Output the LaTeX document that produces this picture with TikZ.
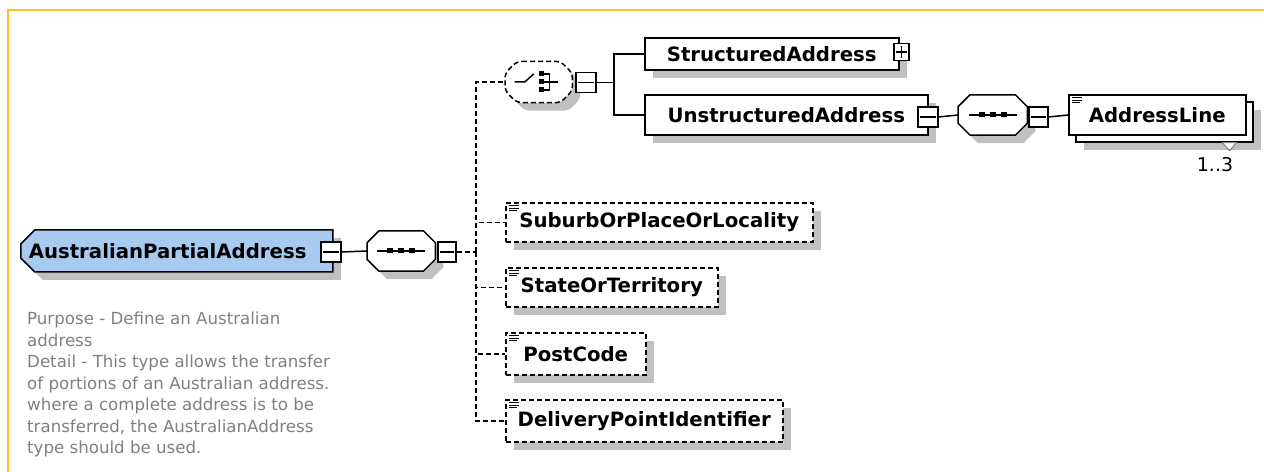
\documentclass[tikz,border=0pt]{standalone}
\usepackage{fontspec}
\setmainfont{DejaVu Sans}
\usetikzlibrary{shapes.misc,shadows}

\definecolor{framegold}{RGB}{255,193,37}
\definecolor{rootblue}{RGB}{166,202,240}
\definecolor{shadowgrey}{RGB}{192,192,192}
\definecolor{docgrey}{RGB}{128,128,128}

\tikzset{
  box/.style={draw, fill=white, line width=1.5bp, inner sep=0pt, anchor=west,
    font=\fontsize{19.8}{22}\selectfont\bfseries},
  shad/.style={general shadow={fill=shadowgrey, shadow xshift=8bp, shadow yshift=-8bp}},
  elem/.style={box, shad},
  optelem/.style={elem, dash pattern=on 5bp off 3bp},
  comp/.style={anchor=west, minimum width=68bp, minimum height=40bp, inner sep=0pt},
  compline/.style={draw, fill=white, line width=1.5bp, shad},
  expbox/.style={draw, fill=white, line width=1.5bp, anchor=west,
    minimum width=18bp, minimum height=20bp, inner sep=0pt},
  conn/.style={line width=1.5bp},
  optconn/.style={conn, dash pattern=on 5bp off 3bp},
}

% octagon outline of a compositor node
\newcommand\octpath[1]{([xshift=12bp]#1.north west) -- ([xshift=-12bp]#1.north east)
  -- ([yshift=-12bp]#1.north east) -- ([yshift=12bp]#1.south east)
  -- ([xshift=-12bp]#1.south east) -- ([xshift=12bp]#1.south west)
  -- ([yshift=12bp]#1.south west) -- ([yshift=-12bp]#1.north west) -- cycle}
% marks drawn on top of nodes
\newcommand\minusmark[1]{\draw[line width=1.5bp] ([xshift=3bp]#1.west) -- ([xshift=-3bp]#1.east);}
\newcommand\plusmark[1]{\minusmark{#1}
  \draw[line width=1.5bp] ([yshift=3bp]#1.south) -- ([yshift=-3bp]#1.north);}
\newcommand\simplemark[1]{\draw[line width=1bp] (#1.north west) ++(4,3.5) -- ++(10,0)
  ++(-10,2.5) -- ++(10,0) ++(-10,2.5) -- ++(8,0);}
\newcommand\seqmark[1]{\draw[conn] ([xshift=-24bp]#1.center) -- ([xshift=24bp]#1.center);
  \foreach \dx in {-11,0,11} \fill ([xshift=\dx bp]#1.center) +(-3,-2.5) rectangle +(3,2.5);}
\newcommand\choicemark[1]{\begin{scope}[shift={(#1.center)}]
  \draw[conn] (-24,0) -- (-14,0) -- (-5,-8);
  \foreach \dy in {-8,0,8} \fill (0,\dy) +(0,-2.5) rectangle +(5,2.5);
  \draw[conn] (5,-8) -- (11,-8) -- (11,8) -- (5,8) (5,0) -- (19,0);
  \end{scope}}

\begin{document}
\begin{tikzpicture}[x=1bp,y=-1bp]
\useasboundingbox (0,0) rectangle (1264,472);
\draw[framegold, line width=2bp] (8,472) -- (8,10.3) -- (1264,10.3);

% root type
\node[elem, fill=rootblue, chamfered rectangle, chamfered rectangle corners={north west,south west},
  chamfered rectangle xsep=7bp, chamfered rectangle ysep=7bp, minimum height=42bp,
  text width=296bp, inner xsep=1bp, align=left] (root) at (20,251) {AustralianPartialAddress};
\node[expbox, minimum width=20bp] (rootm) at (320,252) {};
\node[comp] (seq1) at (367,251) {};
\draw[compline] \octpath{seq1};
\node[expbox] (seq1m) at (437,252) {};
\coordinate (junc) at (476,252);

% choice branch
\node[comp, minimum width=67bp, minimum height=41bp] (choice) at (505,82) {};
\draw[compline, rounded corners=5bp, dash pattern=on 5bp off 3bp] \octpath{choice};
\node[expbox, minimum width=20bp] (choicem) at (575,82.5) {};
\coordinate (fork) at (614,82.5);
\node[elem, minimum width=254bp, minimum height=32bp] (struct) at (644,54) {StructuredAddress};
\node[expbox, minimum width=15bp, minimum height=17bp] (structp) at (893,52) {};
\node[elem, minimum width=283bp, minimum height=40bp] (unstruct) at (644,115) {UnstructuredAddress};
\node[expbox, minimum width=20bp] (unstructm) at (917,117) {};
\node[comp, minimum width=69bp] (seq2) at (958,115) {};
\draw[compline] \octpath{seq2};
\node[expbox, minimum width=19bp] (seq2m) at (1028,117) {};
\node[elem, minimum width=177bp, minimum height=40bp] (addrback) at (1075,122) {};
\node[box, minimum width=177bp, minimum height=40bp] (addr) at (1068,115) {AddressLine};
\draw[draw=gray, fill=white, line width=1bp] ([xshift=-31bp]addrback.south east) -- ++(14,0) -- ++(-7,8) -- cycle;
\node[font=\fontsize{19}{22}\selectfont, inner sep=0pt] (occurs) at (1215,165) {1..3};

% optional children
\node[optelem, minimum width=307bp, minimum height=39bp] (suburb) at (505,222.5) {SuburbOrPlaceOrLocality};
\node[optelem, minimum width=212bp, minimum height=39bp] (state) at (505,287.5) {StateOrTerritory};
\node[optelem, minimum width=140bp, minimum height=42bp] (post) at (505,354) {PostCode};
\node[optelem, minimum width=277bp, minimum height=42bp] (deliv) at (505,421) {DeliveryPointIdentifier};

% connectors
\draw[conn] (rootm.east) -- (seq1.west);
\draw[optconn] (seq1m.east) -- (junc);
\draw[optconn] (junc) |- (choice.west);
\draw[optconn] (junc) |- (suburb.west);
\draw[optconn] (junc) |- (state.west);
\draw[optconn] (junc) |- (post.west);
\draw[optconn] (junc) |- (deliv.west);
\draw[conn] (choicem.east) -- (fork);
\draw[conn] (fork) |- (struct.west);
\draw[conn] (fork) |- (unstruct.west);
\draw[conn] (unstructm.east) -- (seq2.west);
\draw[conn] (seq2m.east) -- (addr.west);

% marks
\minusmark{rootm} \minusmark{seq1m} \minusmark{choicem}
\minusmark{unstructm} \minusmark{seq2m} \plusmark{structp}
\seqmark{seq1} \seqmark{seq2} \choicemark{choice}
\simplemark{addr} \simplemark{suburb} \simplemark{state}
\simplemark{post} \simplemark{deliv}

% documentation
\node[anchor=north west, align=left, text=docgrey, inner sep=0pt,
  font=\fontsize{16.7}{21.6}\selectfont] (doc) at (27,312)
  {Purpose - Define an Australian\\address\\Detail - This type allows the transfer\\
   of portions of an Australian address.\\where a complete address is to be\\
   transferred, the AustralianAddress\\type should be used.};
\end{tikzpicture}
\end{document}
